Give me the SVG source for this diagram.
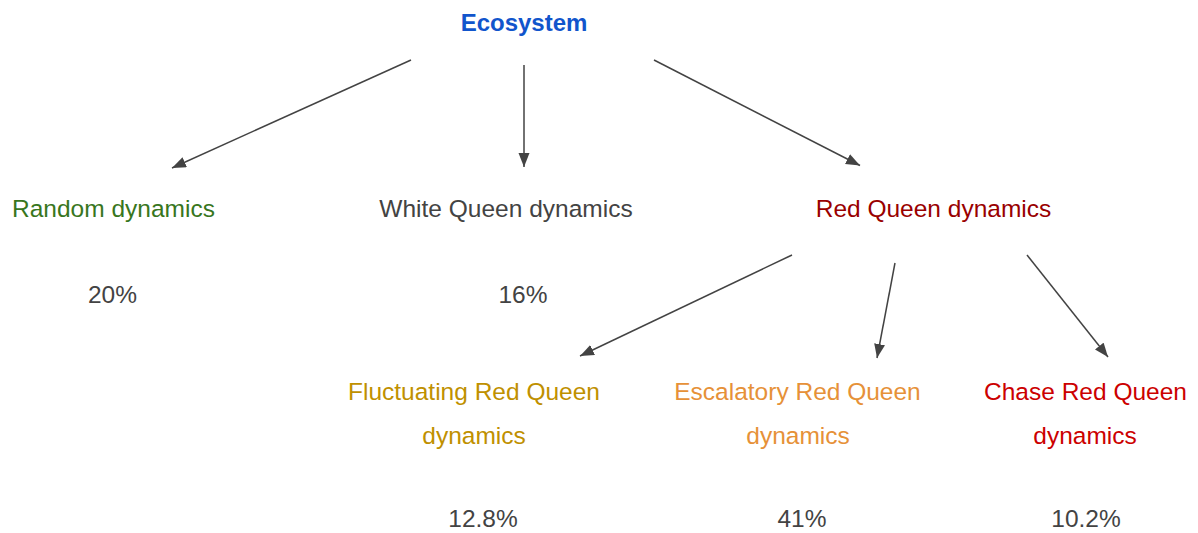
<svg xmlns="http://www.w3.org/2000/svg" width="1198" height="533" viewBox="0 0 1198 533">
  <style>
    text { font-family: "Liberation Sans", Arial, sans-serif; font-size: 24.5px; text-anchor: middle; }
    .root { font-weight: bold; font-size: 24px; fill: #1155cc; }
    .random { fill: #38761d; }
    .white { fill: #434343; }
    .red { fill: #990000; }
    .fluct { fill: #bf9000; }
    .escal { fill: #e69138; }
    .chase { fill: #cc0000; }
    .pct { fill: #434343; }
    .edge { stroke: #434343; stroke-width: 1.5; fill: none; marker-end: url(#arrow); }
  </style>
  <defs>
    <marker id="arrow" markerUnits="userSpaceOnUse" markerWidth="16" markerHeight="12" refX="14" refY="5.5" orient="auto">
      <path d="M0,0 L14,5.5 L0,11 Z" fill="#434343"/>
    </marker>
  </defs>
  <rect width="1198" height="533" fill="#ffffff"/>

  <g id="connectors">
    <line class="edge" x1="411" y1="60" x2="172" y2="168"/>
    <line class="edge" x1="524" y1="65" x2="524" y2="167"/>
    <line class="edge" x1="654" y1="60" x2="860" y2="165.5"/>
    <line class="edge" x1="792" y1="255" x2="580" y2="356"/>
    <line class="edge" x1="895" y1="263" x2="877" y2="358"/>
    <line class="edge" x1="1027" y1="255" x2="1108" y2="357"/>
  </g>

  <g id="ecosystem">
    <text class="root" x="524" y="31">Ecosystem</text>
  </g>

  <g id="random">
    <text class="random" x="113.5" y="217">Random dynamics</text>
    <text class="pct" x="112.5" y="303">20%</text>
  </g>

  <g id="white-queen">
    <text class="white" x="506" y="217">White Queen dynamics</text>
    <text class="pct" x="523" y="303">16%</text>
  </g>

  <g id="red-queen">
    <text class="red" x="933.5" y="217">Red Queen dynamics</text>
  </g>

  <g id="fluctuating">
    <text class="fluct" x="474" y="400">Fluctuating Red Queen</text>
    <text class="fluct" x="474" y="444">dynamics</text>
    <text class="pct" x="483" y="527">12.8%</text>
  </g>

  <g id="escalatory">
    <text class="escal" x="797.5" y="400">Escalatory Red Queen</text>
    <text class="escal" x="798" y="444">dynamics</text>
    <text class="pct" x="802" y="527">41%</text>
  </g>

  <g id="chase">
    <text class="chase" x="1085.5" y="400">Chase Red Queen</text>
    <text class="chase" x="1085" y="444">dynamics</text>
    <text class="pct" x="1086" y="527">10.2%</text>
  </g>
</svg>
